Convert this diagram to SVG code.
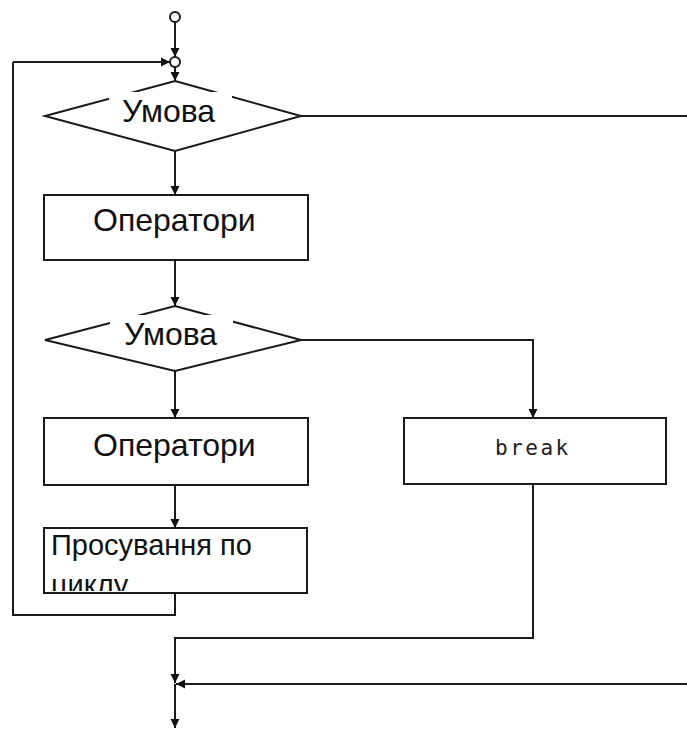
<svg xmlns="http://www.w3.org/2000/svg" width="687" height="729" viewBox="0 0 687 729">
<style>
.ln{fill:none;stroke:#1a1a1a;stroke-width:2}
.bx{fill:#fff;stroke:#1a1a1a;stroke-width:2}
.lbl{font-family:"Liberation Sans",Arial,sans-serif;font-size:32px;fill:#111}
.brk{font-family:"DejaVu Sans Mono",monospace;font-size:21px;fill:#222;letter-spacing:2.5px}
</style>
<defs>
<marker id="ah" viewBox="0 0 10 10" refX="10" refY="5" markerWidth="9" markerHeight="12" markerUnits="userSpaceOnUse" orient="auto">
<path d="M0,0 L10,5 L0,10 z" fill="#111"/>
</marker>
<clipPath id="c3"><rect x="43" y="528" width="264" height="63"/></clipPath>
</defs>
<rect width="687" height="729" fill="#fff"/>
<g id="connectors">
<line class="ln" x1="175" y1="22" x2="175" y2="57" marker-end="url(#ah)"/>
<line class="ln" x1="13" y1="62" x2="170" y2="62" marker-end="url(#ah)"/>
<line class="ln" x1="175" y1="67" x2="175" y2="81" marker-end="url(#ah)"/>
<line class="ln" x1="301" y1="116" x2="687" y2="116"/>
<line class="ln" x1="175" y1="151" x2="175" y2="195" marker-end="url(#ah)"/>
<line class="ln" x1="175" y1="260" x2="175" y2="306" marker-end="url(#ah)"/>
<polyline class="ln" points="301,340 533,340 533,418" marker-end="url(#ah)"/>
<line class="ln" x1="175" y1="371" x2="175" y2="418" marker-end="url(#ah)"/>
<line class="ln" x1="175" y1="485" x2="175" y2="528" marker-end="url(#ah)"/>
<polyline class="ln" points="175,593 175,615 13,615 13,62"/>
<polyline class="ln" points="533,484 533,638 175,638 175,683" marker-end="url(#ah)"/>
<line class="ln" x1="687" y1="684" x2="176" y2="684" marker-end="url(#ah)"/>
<line class="ln" x1="175" y1="684" x2="175" y2="728" marker-end="url(#ah)"/>
</g>
<g id="start"><circle cx="175" cy="17" r="5" class="bx"/></g>
<g id="merge"><circle cx="175" cy="62" r="5" class="bx"/></g>
<g id="cond1">
<polygon class="bx" points="175,81 301,116 175,151 45,116"/>
<rect x="109" y="92" width="123" height="33" fill="#fff"/>
<text class="lbl" x="122" y="122">Умова</text>
</g>
<g id="ops1">
<rect class="bx" x="44" y="195" width="264" height="65"/>
<text class="lbl" x="93" y="231">Оператори</text>
</g>
<g id="cond2">
<polygon class="bx" points="175,306 301,340 175,371 45,340"/>
<rect x="110" y="315" width="123" height="31" fill="#fff"/>
<text class="lbl" x="124" y="345">Умова</text>
</g>
<g id="ops2">
<rect class="bx" x="44" y="418" width="264" height="67"/>
<text class="lbl" x="93" y="456">Оператори</text>
</g>
<g id="break">
<rect class="bx" x="404" y="418" width="262" height="66"/>
<text class="brk" x="495" y="455">break</text>
</g>
<g id="advance">
<rect class="bx" x="44" y="528" width="263" height="65"/>
<g clip-path="url(#c3)">
<text class="lbl" style="font-size:29px" x="51" y="555">Просування по</text>
<text class="lbl" style="font-size:29px" x="51" y="595">циклу</text>
</g>
</g>
</svg>
